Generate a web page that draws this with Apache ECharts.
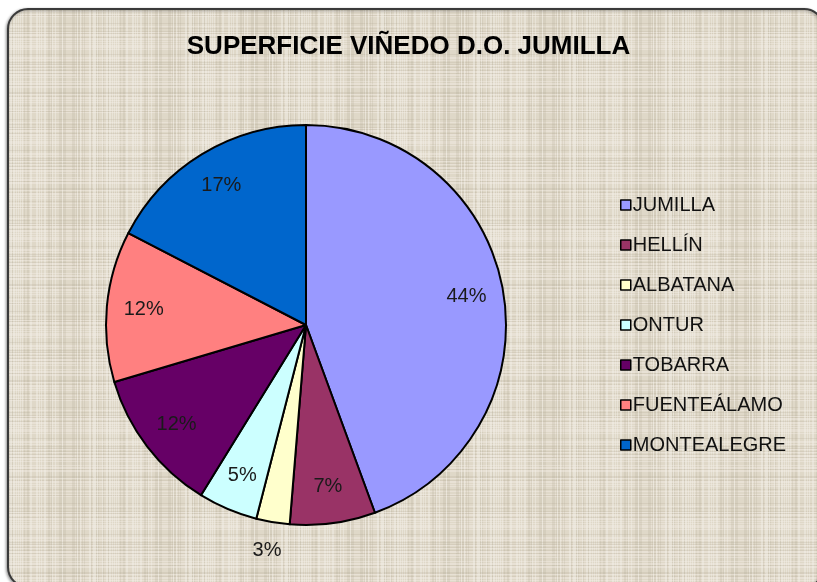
<!DOCTYPE html>
<html>
<head>
<meta charset="utf-8">
<script src="https://cdn.jsdelivr.net/npm/echarts@6/dist/echarts.min.js"></script>
<style>
  html, body { margin: 0; padding: 0; background: #fff; }
  #chart { width: 817px; height: 582px; }
</style>
</head>
<body>
<div id="chart"></div>
<script>
// datos
const zonas = ['JUMILLA', 'HELLÍN', 'ALBATANA', 'ONTUR', 'TOBARRA', 'FUENTEÁLAMO', 'MONTEALEGRE'];
const superficie = [44.4, 6.9, 2.7, 4.8, 11.6, 12.2, 17.4];
const colores = ['#9999FF', '#993366', '#FFFFCC', '#CCFFFF', '#660066', '#FF8080', '#0066CC'];

// textura tipo arpillera
function makeTexture() {
    const c = document.createElement('canvas');
    c.width = 96; c.height = 96;
    const ctx = c.getContext('2d');
    ctx.fillStyle = '#DFD8C8';
    ctx.fillRect(0, 0, 96, 96);
    for (let i = 0; i < 96; i++) {
        const h = Math.sin(i * 12.9898) * 43758.5453;
        const v = h - Math.floor(h);
        if (v > 0.6) {
            ctx.fillStyle = 'rgba(245,241,232,0.45)';
            ctx.fillRect(i, 0, 1, 96);
        } else if (v < 0.2) {
            ctx.fillStyle = 'rgba(170,160,140,0.18)';
            ctx.fillRect(i, 0, 1, 96);
        }
        const h2 = Math.sin(i * 78.233) * 12345.6789;
        const w = h2 - Math.floor(h2);
        if (w > 0.6) {
            ctx.fillStyle = 'rgba(245,241,232,0.4)';
            ctx.fillRect(0, i, 96, 1);
        } else if (w < 0.2) {
            ctx.fillStyle = 'rgba(160,150,130,0.16)';
            ctx.fillRect(0, i, 96, 1);
        }
    }
    return c;
}

const chart = echarts.init(document.getElementById('chart'));

const datos = zonas.map((z, i) => ({
    name: z,
    value: superficie[i],
    itemStyle: { color: colores[i] }
}));

const datosEtiquetas = zonas.map((z, i) => {
    const d = { name: z, value: superficie[i] };
    if (z === 'ALBATANA') d.label = { offset: [-12, 65] };
    return d;
});

chart.setOption({
    backgroundColor: '#fff',
    animation: false,
    graphic: [{
        type: 'rect',
        z: 0,
        silent: true,
        shape: { x: 8, y: 9, width: 816, height: 578, r: 20 },
        style: {
            fill: { image: makeTexture(), repeat: 'repeat' },
            stroke: '#3a3a3a',
            lineWidth: 2,
            shadowColor: 'rgba(0,0,0,0.35)',
            shadowBlur: 3,
            shadowOffsetX: -1,
            shadowOffsetY: 1
        }
    }],
    title: {
        text: 'SUPERFICIE VIÑEDO D.O. JUMILLA',
        left: 'center',
        top: 29,
        textStyle: {
            fontFamily: 'Liberation Sans',
            fontWeight: 'bold',
            fontSize: 26,
            color: '#000'
        }
    },
    legend: {
        orient: 'vertical',
        left: 615,
        top: 190,
        itemWidth: 10,
        itemHeight: 10,
        itemGap: 20,
        icon: 'rect',
        itemStyle: { borderColor: '#000', borderWidth: 1.5 },
        textStyle: {
            fontFamily: 'Liberation Sans',
            fontSize: 20,
            lineHeight: 20,
            color: '#111',
            padding: [0, 0, 0, -3]
        },
        data: zonas
    },
    series: [{
        type: 'pie',
        center: [306, 325],
        radius: [0, 200],
        startAngle: 90,
        clockwise: true,
        z: 2,
        label: { show: false },
        labelLine: { show: false },
        emphasis: { disabled: true },
        itemStyle: { borderColor: '#000', borderWidth: 2 },
        data: datos
    }, {
        type: 'pie',
        center: [306, 325],
        radius: [120, 200],
        startAngle: 90,
        clockwise: true,
        z: 3,
        silent: true,
        legendHoverLink: false,
        itemStyle: { color: 'rgba(0,0,0,0)', borderWidth: 0 },
        label: {
            show: true,
            position: 'inside',
            formatter: p => Math.round(p.percent) + '%',
            fontFamily: 'Liberation Sans',
            fontSize: 20,
            color: '#1a1a1a'
        },
        labelLine: { show: false },
        emphasis: { disabled: true },
        data: datosEtiquetas
    }]
});
</script>
</body>
</html>
